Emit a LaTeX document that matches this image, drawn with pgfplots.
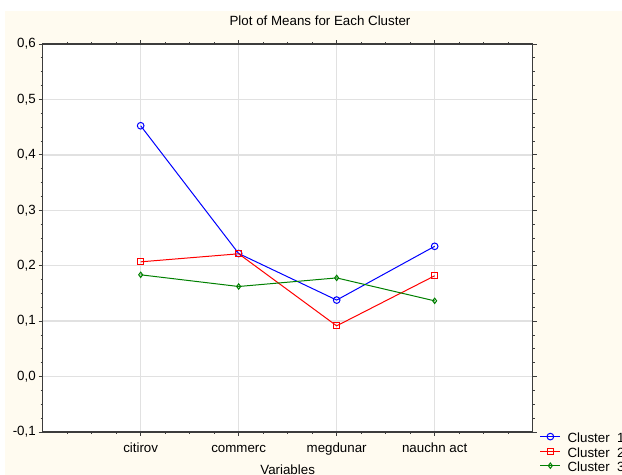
\documentclass[border=0pt]{standalone}
\usepackage{pgfplots}
\pgfplotsset{compat=1.18}
\usepackage{fontspec}
\setmainfont{Liberation Sans}
\definecolor{bgivory}{RGB}{255,251,240}
\definecolor{cgreen}{RGB}{0,128,0}
\definecolor{gridgray}{RGB}{225,225,225}
\definecolor{axgray}{RGB}{60,60,60}
\begin{document}
\begin{tikzpicture}
\useasboundingbox (-32pt,-32.25pt) rectangle (434.5pt,324pt);
\clip (-32pt,-32.25pt) rectangle (434.5pt,324pt);
\fill[white] (-32pt,-32.25pt) rectangle (434.5pt,324pt);
\fill[bgivory] (-28.25pt,-32.25pt) rectangle (434.5pt,315.75pt);
\begin{axis}[
  at={(0pt,0pt)}, anchor=south west,
  scale only axis, width=367.5pt, height=291pt,
  xmin=0, xmax=5, ymin=-0.1, ymax=0.6,
  xtick={1,2,3,4}, xticklabels={citirov,commerc,megdunar,nauchn act},
  minor xtick={0.25,0.5,0.75,1.25,1.5,1.75,2.25,2.5,2.75,3.25,3.5,3.75,4.25,4.5,4.75},
  ytick={-0.1,0,0.1,0.2,0.3,0.4,0.5,0.6},
  minor y tick num=3,
  /pgf/number format/assume math mode=true,
  /pgf/number format/use comma,
  /pgf/number format/fixed,
  /pgf/number format/fixed zerofill,
  /pgf/number format/precision=1,
  yticklabel style={inner sep=2pt},
  xticklabel style={anchor=base, yshift=-12.3pt},
  axis background/.style={fill=white},
  axis line style={axgray, line width=0.9pt},
  grid=major,
  major grid style={gridgray, line width=1pt},
  tick style={axgray, line width=0.6pt},
  tick align=outside,
  major tick length=3pt, minor tick length=1.5pt,
  title={Plot of Means for Each Cluster},
  title style={at={(axis description cs:0.566,1.0282)}, anchor=base, inner sep=0pt},
  xlabel={Variables},
  xlabel style={at={(axis description cs:0.5,-0.109)}, anchor=base, inner sep=0pt},
  legend style={at={(axis description cs:1.0147,0)}, anchor=north west, draw=none, fill=none,
    inner sep=0pt, outer sep=0pt, row sep=0pt, column sep=5pt,
    nodes={inner sep=0pt, text height=8pt, text depth=2.9pt}},
  legend cell align=left,
  legend image code/.code={\draw[mark repeat=2,mark phase=2,#1] plot coordinates {(0pt,2pt) (7.5pt,2pt) (15pt,2pt)};},
]
\addplot[blue, line width=0.75pt, mark=o, mark size=2.5pt, mark options={fill=white}]
  coordinates {(1,0.4525) (2,0.222) (3,0.138) (4,0.235)};
\addlegendentry{Cluster\ \ 1}
\addplot[red, line width=0.75pt, mark=square, mark size=2.25pt, mark options={fill=white}]
  coordinates {(1,0.207) (2,0.2215) (3,0.0915) (4,0.1818)};
\addlegendentry{Cluster\ \ 2}
\addplot[cgreen, line width=0.75pt, mark=diamond, mark size=2pt, mark options={fill=white}]
  coordinates {(1,0.1836) (2,0.1625) (3,0.178) (4,0.1366)};
\addlegendentry{Cluster\ \ 3}
\end{axis}
\end{tikzpicture}
\end{document}
